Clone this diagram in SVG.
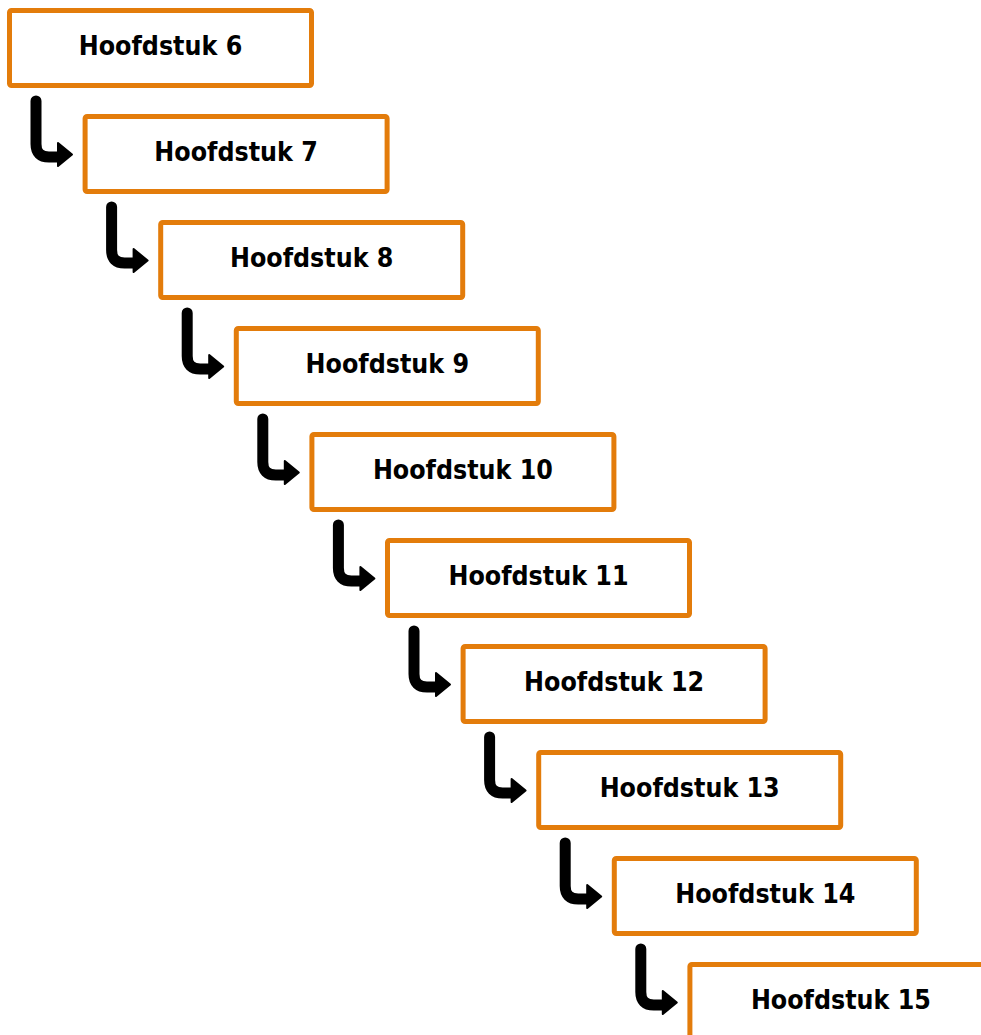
<svg xmlns="http://www.w3.org/2000/svg" xmlns:xlink="http://www.w3.org/1999/xlink" width="981" height="1035" viewBox="0 0 981 1035">
<style>
.box{fill:#fff;stroke:#E37C0B;stroke-width:5}
.lbl{font-family:"DejaVu Sans Condensed","DejaVu Sans",sans-serif;font-weight:bold;font-size:26.5px;fill:#000;text-anchor:middle}
.shaft{fill:none;stroke:#000;stroke-width:11;stroke-linecap:round;stroke-linejoin:round}
.head{fill:#000;stroke:#000;stroke-width:2;stroke-linejoin:round}
</style>
<defs>
<g id="bent">
<path class="shaft" d="M36,101 V144 Q36,157 49,157 H60"/>
<polygon class="head" points="58,143 72,154.5 58,166"/>
</g>
</defs>
<rect width="981" height="1035" fill="#fff"/>
<g id="connectors">
<use xlink:href="#bent" transform="translate(0,0)"/>
<use xlink:href="#bent" transform="translate(75.6,106)"/>
<use xlink:href="#bent" transform="translate(151.2,212)"/>
<use xlink:href="#bent" transform="translate(226.8,318)"/>
<use xlink:href="#bent" transform="translate(302.4,424)"/>
<use xlink:href="#bent" transform="translate(378,530)"/>
<use xlink:href="#bent" transform="translate(453.6,636)"/>
<use xlink:href="#bent" transform="translate(529.2,742)"/>
<use xlink:href="#bent" transform="translate(604.8,848)"/>
</g>
<g id="h6"><rect class="box" x="9.5" y="10.5" width="302" height="75" rx="2"/><text class="lbl" x="160.5" y="55">Hoofdstuk 6</text></g>
<g id="h7"><rect class="box" x="85.1" y="116.5" width="302" height="75" rx="2"/><text class="lbl" x="236.1" y="161">Hoofdstuk 7</text></g>
<g id="h8"><rect class="box" x="160.7" y="222.5" width="302" height="75" rx="2"/><text class="lbl" x="311.7" y="267">Hoofdstuk 8</text></g>
<g id="h9"><rect class="box" x="236.3" y="328.5" width="302" height="75" rx="2"/><text class="lbl" x="387.3" y="373">Hoofdstuk 9</text></g>
<g id="h10"><rect class="box" x="311.9" y="434.5" width="302" height="75" rx="2"/><text class="lbl" x="462.9" y="479">Hoofdstuk 10</text></g>
<g id="h11"><rect class="box" x="387.5" y="540.5" width="302" height="75" rx="2"/><text class="lbl" x="538.5" y="585">Hoofdstuk 11</text></g>
<g id="h12"><rect class="box" x="463.1" y="646.5" width="302" height="75" rx="2"/><text class="lbl" x="614.1" y="691">Hoofdstuk 12</text></g>
<g id="h13"><rect class="box" x="538.7" y="752.5" width="302" height="75" rx="2"/><text class="lbl" x="689.7" y="797">Hoofdstuk 13</text></g>
<g id="h14"><rect class="box" x="614.3" y="858.5" width="302" height="75" rx="2"/><text class="lbl" x="765.3" y="903">Hoofdstuk 14</text></g>
<g id="h15"><rect class="box" x="689.9" y="964.5" width="302" height="75" rx="2"/><text class="lbl" x="840.9" y="1009">Hoofdstuk 15</text></g>
</svg>
